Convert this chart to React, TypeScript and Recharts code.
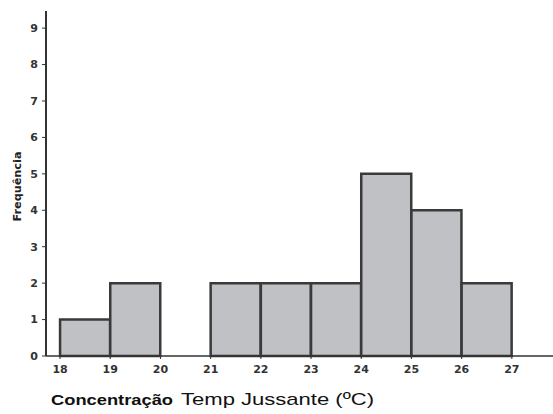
import React from 'react';
import { BarChart, Bar, XAxis, YAxis } from 'recharts';

// class midpoints (°C) and counts per 1-degree class
const classMids = [18.5, 19.5, 20.5, 21.5, 22.5, 23.5, 24.5, 25.5, 26.5];
const counts = [1, 2, 0, 2, 2, 2, 5, 4, 2];
const xTicks = [18, 19, 20, 21, 22, 23, 24, 25, 26, 27];
const yTicks = [0, 1, 2, 3, 4, 5, 6, 7, 8, 9];

const data = classMids.map((mid, i) => ({ mid, count: counts[i] }));

const tickFont = 'Tahoma, "DejaVu Sans", sans-serif';

const tickStyle = {
  fontFamily: tickFont,
  fontSize: 11,
  fontWeight: 700,
  fill: '#333',
};

function AxisTitle({ viewBox }: any) {
  const x = viewBox.x + 5;
  const y = viewBox.y + 49;
  return (
    <g fill="#111" fontFamily="Arial, 'Liberation Sans', sans-serif">
      <text x={x} y={y} fontSize={15} fontWeight={700} textLength={122} lengthAdjust="spacingAndGlyphs">
        Concentração
      </text>
      <text x={x + 130} y={y} fontSize={17} textLength={193} lengthAdjust="spacingAndGlyphs">
        Temp Jussante (ºC)
      </text>
    </g>
  );
}

function FreqLabel({ viewBox }: any) {
  const x = viewBox.x + 11;
  const y = viewBox.y + viewBox.height / 2 + 3;
  return (
    <text
      x={x}
      y={y}
      transform={`rotate(-90 ${x} ${y})`}
      textAnchor="middle"
      dominantBaseline="central"
      fontFamily={tickFont}
      fontSize={10}
      fontWeight={700}
      fill="#222"
      textLength={70}
      lengthAdjust="spacingAndGlyphs"
    >
      Frequência
    </text>
  );
}

export default function App() {
  return (
    <div style={{ position: 'absolute', left: 0, top: 0, background: '#fff' }}>
      <BarChart
        width={553}
        height={414}
        data={data}
        margin={{ top: 11, right: 0, bottom: 0, left: 6 }}
        barCategoryGap={0}
        barGap={0}
      >
        <XAxis
          xAxisId="top"
          orientation="top"
          dataKey="mid"
          type="number"
          domain={[17.72, 27.82]}
          height={0}
          tick={false}
          tickLine={false}
          axisLine={{ stroke: '#333', strokeWidth: 2 }}
        />
        <XAxis
          dataKey="mid"
          type="number"
          domain={[17.72, 27.82]}
          ticks={xTicks}
          interval={0}
          height={58}
          tick={tickStyle}
          tickSize={3}
          tickMargin={6}
          tickLine={{ stroke: '#333' }}
          axisLine={{ stroke: '#333', strokeWidth: 1.5 }}
          label={<AxisTitle />}
        />
        <YAxis
          type="number"
          domain={[0, 9.47]}
          ticks={yTicks}
          interval={0}
          width={40}
          tick={tickStyle}
          tickSize={4}
          tickMargin={4}
          tickLine={{ stroke: '#333' }}
          axisLine={{ stroke: '#333', strokeWidth: 2 }}
          label={<FreqLabel />}
        />
        <Bar
          dataKey="count"
          fill="#c0c1c5"
          stroke="#3a3a3a"
          strokeWidth={2.5}
          isAnimationActive={false}
        />
      </BarChart>
    </div>
  );
}
